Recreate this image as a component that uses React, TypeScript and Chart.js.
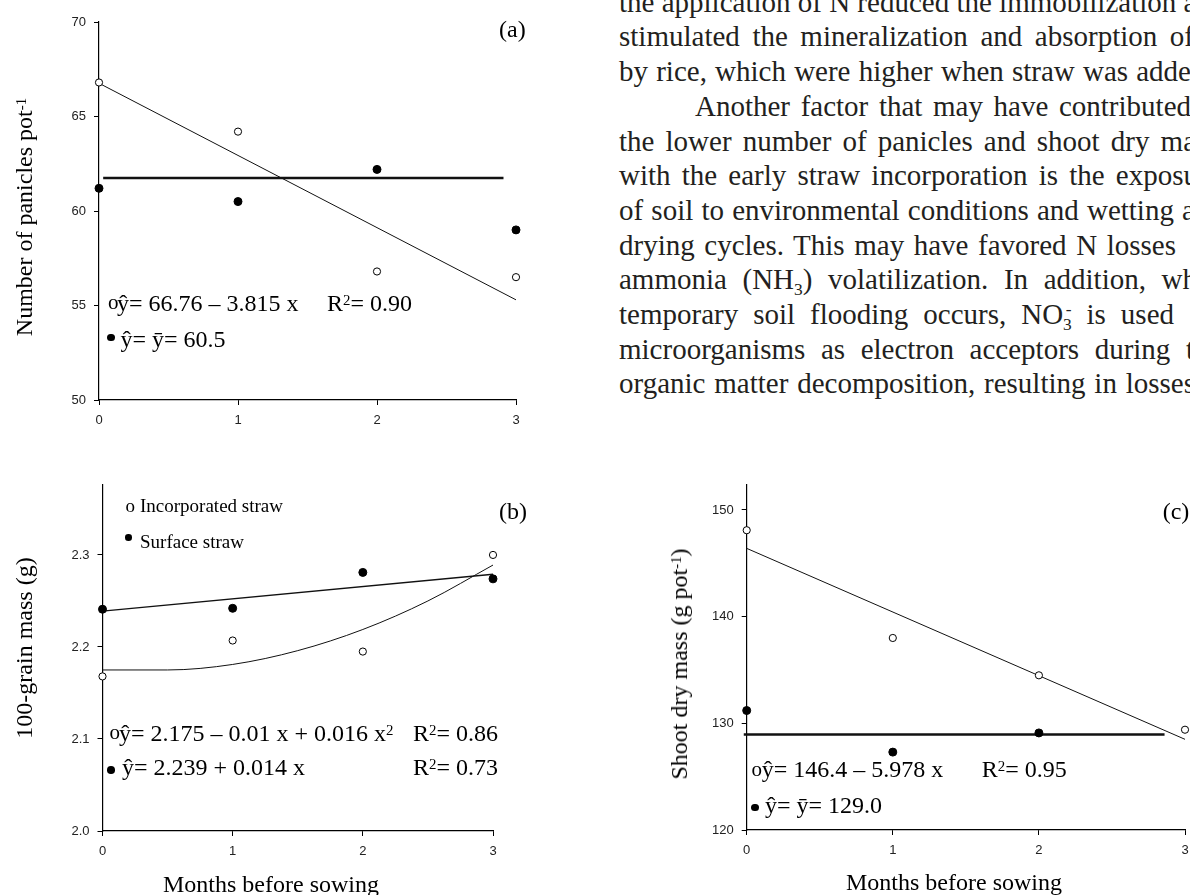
import React, { useEffect, useRef } from "react";
import { Chart, registerables } from "chart.js";

Chart.register(...registerables);

// ---------------- data ----------------
const months = [0, 1, 2, 3];
const monthTickLabels = ["0", "1", "2", "3"];

// (a) number of panicles per pot
const panicleTicks = [50, 55, 60, 65, 70];
const panicleTickLabels = ["50", "55", "60", "65", "70"];
const paniclesIncorporated = [66.8, 64.2, 56.8, 56.5];
const paniclesSurface = [61.2, 60.5, 62.2, 59.0];
const paniclesFitX = [0, 3];
const paniclesFitY = [66.76, 55.3];
const paniclesMeanX = [0.03, 2.91];
const paniclesMeanY = [61.75, 61.75];

// (b) 100-grain mass
const grainTicks = [2.0, 2.1, 2.2, 2.3];
const grainTickLabels = ["2.0", "2.1", "2.2", "2.3"];
const grainIncorporated = [2.168, 2.207, 2.195, 2.3];
const grainSurface = [2.241, 2.242, 2.281, 2.274];
const grainCurveX = [0, 0.5, 1, 1.5, 2, 2.5, 3];
const grainCurveY = [2.175, 2.175, 2.181, 2.196, 2.219, 2.25, 2.289];
const grainLineX = [0, 3];
const grainLineY = [2.239, 2.279];

// (c) shoot dry mass
const shootTicks = [120, 130, 140, 150];
const shootTickLabels = ["120", "130", "140", "150"];
const shootIncorporated = [148.1, 138.0, 134.5, 129.4];
const shootSurfaceMonths = [0, 1, 2];
const shootSurface = [131.2, 127.3, 129.1];
const shootFitX = [0, 3];
const shootFitY = [146.4, 128.5];
const shootMeanX = [-0.02, 2.86];
const shootMeanY = [128.95, 128.95];

const SERIF = "'Liberation Serif', 'Times New Roman', Times, serif";
const SANS = "'Liberation Sans', Arial, Helvetica, sans-serif";

type LineSpec = { x: number[]; y: number[]; width: number; smooth?: boolean };
type PanelSpec = {
  left: number;
  top: number;
  width: number;
  height: number;
  padding: { left: number; right: number; top: number; bottom: number };
  yMin: number;
  yMax: number;
  yTicks: number[];
  yTickLabels: string[];
  openY: number[];
  filledX: number[];
  filledY: number[];
  lines: LineSpec[];
};

function Panel({ spec }: { spec: PanelSpec }) {
  const ref = useRef<HTMLCanvasElement>(null);
  useEffect(() => {
    const canvas = ref.current!;
    const toPts = (xs: number[], ys: number[]) => xs.map((x, i) => ({ x, y: ys[i] }));
    const tickFont = { family: SANS, size: 13 };
    const grid = {
      display: true,
      drawOnChartArea: false,
      drawTicks: true,
      tickLength: 5,
      tickColor: "#000",
      tickWidth: 1,
    };
    const chart = new Chart(canvas, {
      type: "scatter",
      data: {
        datasets: [
          {
            data: toPts(months, spec.openY),
            pointRadius: 3.6,
            pointBackgroundColor: "#fff",
            pointBorderColor: "#000",
            pointBorderWidth: 1,
            clip: false,
            order: 0,
          },
          {
            data: toPts(spec.filledX, spec.filledY),
            pointRadius: 4,
            pointBackgroundColor: "#000",
            pointBorderColor: "#000",
            pointBorderWidth: 1,
            clip: false,
            order: 0,
          },
          ...spec.lines.map((l) => ({
            data: toPts(l.x, l.y),
            showLine: true,
            pointRadius: 0,
            borderColor: "#111",
            borderWidth: l.width,
            cubicInterpolationMode: l.smooth ? "monotone" : "default",
            tension: l.smooth ? 0.4 : 0,
            clip: false,
            order: 1,
          })),
        ],
      } as any,
      options: {
        responsive: false,
        animation: false,
        events: [],
        layout: { padding: spec.padding },
        plugins: { legend: { display: false }, tooltip: { enabled: false } },
        scales: {
          x: {
            type: "linear",
            min: 0,
            max: 3,
            afterBuildTicks: (s: any) => {
              s.ticks = months.map((v) => ({ value: v }));
            },
            afterFit: (s: any) => {
              s.height = 30;
              s.paddingLeft = 0;
              s.paddingRight = 0;
            },
            ticks: {
              font: tickFont,
              color: "#222",
              padding: 8,
              maxRotation: 0,
              autoSkip: false,
              callback: (_v: any, i: number) => monthTickLabels[i],
            },
            grid,
            border: { display: true, color: "#000", width: 1.2 },
          },
          y: {
            type: "linear",
            min: spec.yMin,
            max: spec.yMax,
            afterBuildTicks: (s: any) => {
              s.ticks = spec.yTicks.map((v) => ({ value: v }));
            },
            afterFit: (s: any) => {
              s.width = 60;
              s.paddingTop = 0;
              s.paddingBottom = 0;
            },
            ticks: {
              font: tickFont,
              color: "#222",
              padding: 8,
              autoSkip: false,
              callback: (_v: any, i: number) => spec.yTickLabels[i],
            },
            grid,
            border: { display: true, color: "#000", width: 1.2 },
          },
        },
      } as any,
    });
    return () => chart.destroy();
  }, [spec]);
  return (
    <canvas
      ref={ref}
      width={spec.width}
      height={spec.height}
      style={{ position: "absolute", left: spec.left, top: spec.top, width: spec.width, height: spec.height }}
    />
  );
}

const panelA: PanelSpec = {
  left: 0,
  top: 0,
  width: 560,
  height: 450,
  padding: { left: 39, right: 44, top: 22, bottom: 20 },
  yMin: 50,
  yMax: 70,
  yTicks: panicleTicks,
  yTickLabels: panicleTickLabels,
  openY: paniclesIncorporated,
  filledX: months,
  filledY: paniclesSurface,
  lines: [
    { x: paniclesFitX, y: paniclesFitY, width: 1 },
    { x: paniclesMeanX, y: paniclesMeanY, width: 2.6 },
  ],
};

const panelB: PanelSpec = {
  left: 0,
  top: 470,
  width: 560,
  height: 425,
  padding: { left: 42.5, right: 67, top: 15, bottom: 34 },
  yMin: 2.0,
  yMax: 2.376,
  yTicks: grainTicks,
  yTickLabels: grainTickLabels,
  openY: grainIncorporated,
  filledX: months,
  filledY: grainSurface,
  lines: [
    { x: grainCurveX, y: grainCurveY, width: 1, smooth: true },
    { x: grainLineX, y: grainLineY, width: 1.3 },
  ],
};

const panelC: PanelSpec = {
  left: 660,
  top: 470,
  width: 530,
  height: 425,
  padding: { left: 26.7, right: 2.7, top: 15, bottom: 35 },
  yMin: 120,
  yMax: 152.34,
  yTicks: shootTicks,
  yTickLabels: shootTickLabels,
  openY: shootIncorporated,
  filledX: shootSurfaceMonths,
  filledY: shootSurface,
  lines: [
    { x: shootFitX, y: shootFitY, width: 1 },
    { x: shootMeanX, y: shootMeanY, width: 2.6 },
  ],
};

// ---------------- text helpers ----------------
function Txt({
  x,
  base,
  size,
  children,
  center = false,
  color = "#000",
}: {
  x: number;
  base: number;
  size: number;
  children: React.ReactNode;
  center?: boolean;
  color?: string;
}) {
  return (
    <div
      style={{
        position: "absolute",
        left: x,
        top: base - 0.8375 * size,
        fontSize: size,
        lineHeight: `${size}px`,
        fontFamily: SERIF,
        whiteSpace: "nowrap",
        color,
        transform: center ? "translateX(-50%)" : undefined,
      }}
    >
      {children}
    </div>
  );
}

function RotLabel({ cx, cy, size, children }: { cx: number; cy: number; size: number; children: React.ReactNode }) {
  return (
    <div
      style={{
        position: "absolute",
        left: cx,
        top: cy,
        transform: "translate(-50%, -50%) rotate(-90deg)",
        fontSize: size,
        lineHeight: `${size}px`,
        fontFamily: SERIF,
        whiteSpace: "nowrap",
        color: "#000",
      }}
    >
      {children}
    </div>
  );
}

function Dot({ cx, cy, r }: { cx: number; cy: number; r: number }) {
  return (
    <div
      style={{
        position: "absolute",
        left: cx - r,
        top: cy - r,
        width: 2 * r,
        height: 2 * r,
        borderRadius: "50%",
        background: "#000",
      }}
    />
  );
}

const Sup = ({ children }: { children: React.ReactNode }) => (
  <span style={{ fontSize: "0.62em", verticalAlign: "0.42em", lineHeight: 0 }}>{children}</span>
);
const Sub = ({ children }: { children: React.ReactNode }) => (
  <span style={{ fontSize: "0.6em", verticalAlign: "-0.35em", lineHeight: 0 }}>{children}</span>
);

// paragraph lines (visible part of the page text)
const PARA_LEFT = 619;
const PARA_SIZE = 29;
const PARA_FIRST_BASE = 12;
const PARA_STEP = 34.7;
const paraLines: { indent: number; right: number; content: React.ReactNode }[] = [
  { indent: 0, right: 1195, content: "the application of N reduced the immobilization a" },
  { indent: 0, right: 1194, content: "stimulated the mineralization and absorption of" },
  { indent: 0, right: 1191, content: "by rice, which were higher when straw was adde" },
  { indent: 76, right: 1191, content: "Another factor that may have contributed" },
  { indent: 0, right: 1196, content: "the lower number of panicles and shoot dry ma" },
  { indent: 0, right: 1198, content: "with the early straw incorporation is the exposu" },
  { indent: 0, right: 1195, content: "of soil to environmental conditions and wetting a" },
  { indent: 0, right: 1176, content: "drying cycles. This may have favored N losses" },
  {
    indent: 0,
    right: 1197,
    content: (
      <>
        ammonia (NH<Sub>3</Sub>) volatilization. In addition, wh
      </>
    ),
  },
  {
    indent: 0,
    right: 1174,
    content: (
      <>
        temporary soil flooding occurs, NO<Sub>3</Sub>
        <span style={{ fontSize: "0.6em", verticalAlign: "0.5em", lineHeight: 0, marginLeft: "-0.35em" }}>-</span> is
        used
      </>
    ),
  },
  { indent: 0, right: 1194, content: "microorganisms as electron acceptors during t" },
  { indent: 0, right: 1195, content: "organic matter decomposition, resulting in losses" },
];

export default function App() {
  return (
    <div
      style={{
        position: "fixed",
        left: 0,
        top: 0,
        width: 1190,
        height: 895,
        overflow: "hidden",
        background: "#fff",
      }}
    >
      <Panel spec={panelA} />
      <Panel spec={panelB} />
      <Panel spec={panelC} />

      {/* ---- panel (a) annotations ---- */}
      <RotLabel cx={23.5} cy={217} size={24}>
        Number of panicles pot<Sup>-1</Sup>
      </RotLabel>
      <Txt x={499} base={37} size={24}>(a)</Txt>
      <Txt x={108} base={310} size={21}>o</Txt>
      <Txt x={117} base={311.5} size={24}>ŷ= 66.76 – 3.815 x</Txt>
      <Txt x={327} base={311.5} size={24}>
        R<Sup>2</Sup>= 0.90
      </Txt>
      <Dot cx={111} cy={337.5} r={3.8} />
      <Txt x={120.5} base={347} size={24}>ŷ= ȳ= 60.5</Txt>

      {/* ---- panel (b) annotations ---- */}
      <Txt x={125.5} base={511.5} size={19}>o</Txt>
      <Txt x={140} base={511.5} size={19}>Incorporated straw</Txt>
      <Dot cx={128.3} cy={537.3} r={3.3} />
      <Txt x={140} base={548.3} size={19}>Surface straw</Txt>
      <Txt x={499} base={519} size={24}>(b)</Txt>
      <RotLabel cx={23.5} cy={648} size={24}>
        100-grain mass (g)
      </RotLabel>
      <Txt x={109.5} base={740} size={21}>o</Txt>
      <Txt x={119} base={740.7} size={24}>
        ŷ= 2.175 – 0.01 x + 0.016 x<Sup>2</Sup>
      </Txt>
      <Txt x={413} base={740.7} size={24}>
        R<Sup>2</Sup>= 0.86
      </Txt>
      <Dot cx={111} cy={770} r={3.8} />
      <Txt x={122} base={775} size={24}>ŷ= 2.239 + 0.014 x</Txt>
      <Txt x={413} base={775} size={24}>
        R<Sup>2</Sup>= 0.73
      </Txt>
      <Txt x={271} base={892} size={24} center>
        Months before sowing
      </Txt>

      {/* ---- panel (c) annotations ---- */}
      <Txt x={1162.7} base={519} size={24}>(c)</Txt>
      <RotLabel cx={679} cy={664} size={24}>
        Shoot dry mass (g pot<Sup>-1</Sup>)
      </RotLabel>
      <Txt x={751.5} base={777} size={21}>o</Txt>
      <Txt x={761.7} base={776.7} size={24}>ŷ= 146.4 – 5.978 x</Txt>
      <Txt x={981.7} base={776.7} size={24}>
        R<Sup>2</Sup>= 0.95
      </Txt>
      <Dot cx={755} cy={807.7} r={3.8} />
      <Txt x={765} base={813.3} size={24}>ŷ= ȳ= 129.0</Txt>
      <Txt x={954} base={890} size={24} center>
        Months before sowing
      </Txt>

      {/* ---- page text ---- */}
      {paraLines.map((l, i) => {
        const left = PARA_LEFT + l.indent;
        const base = PARA_FIRST_BASE + PARA_STEP * i;
        return (
          <div
            key={i}
            style={{
              position: "absolute",
              left,
              top: base - 0.8375 * PARA_SIZE,
              width: l.right - left,
              fontSize: PARA_SIZE,
              lineHeight: `${PARA_SIZE}px`,
              fontFamily: SERIF,
              color: "#231f20",
              whiteSpace: "nowrap",
              textAlign: "justify",
              textAlignLast: "justify",
            }}
          >
            {l.content}
          </div>
        );
      })}
    </div>
  );
}
